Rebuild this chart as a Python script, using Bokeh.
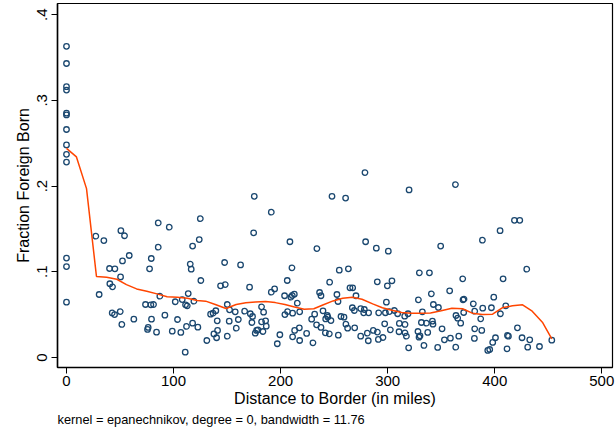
from bokeh.plotting import figure
from bokeh.models import Range1d, FixedTicker, CustomJSTickFormatter, Title
from bokeh.embed import file_html
from bokeh.resources import INLINE

# ---- data ----
dist = [
    0, 0, 0, 0, 0, 0, 0, 0, 0, 0, 0, 0, 0,
    27.4, 34.9, 50.8, 54.2, 85.7, 85.7, 58.6, 52.3, 79.2, 77.6, 40.2, 45.2, 50.5, 40.5, 43, 30.5,
    87.2, 73.8, 78.8, 81.3, 42.7, 44.9, 50.2, 79.4, 62.9, 51.7, 76.3, 75.7, 84.1,
    96, 125, 124, 117.8, 115.6, 116.5, 125.5, 113.7, 101.6, 108.1, 119, 111.2, 112.8, 91.9,
    103.7, 98.8, 106.8, 112.1, 117.8, 122.7, 110.9,
    175.4, 174.8, 147.7, 162.6, 143.9, 148.3, 171, 150.2, 134.6, 136.9, 139.5, 152.3, 157.6,
    166.4, 171.7, 173.8, 140.8, 152, 160.5, 173.2, 137.7, 141.1, 140.2, 131.1, 150.2, 158.6,
    191.3, 208.7, 248, 260.7, 278.8, 320, 233.9, 279.4, 289.4, 300.6, 210.6, 254.8, 263.3,
    329.6, 206.2, 245.8, 304, 191.3, 194.4, 203.7, 209.6, 210.9, 212.8, 215.6, 236.4, 237.7,
    252.6, 264.8, 267.3, 270.4, 290.3, 299.7, 298.8, 328.7, 182.2, 184.1, 204, 206.5, 211.2,
    217.8, 231.8, 239.6, 243.6, 242.1, 244.2, 247, 229, 256.4, 259.2, 274.8, 277.6, 282.2,
    291.6, 301.6, 306.3, 309.3, 315.9, 319, 297.2, 310.9, 316.2, 177.6, 178.8, 183.5,
    186.6, 186, 182.2, 176.3, 196.9, 199.3, 211.2, 213.1, 217.5, 217.8, 224.3, 230.2, 233.6,
    237.7, 241.8, 245.5, 253.9, 261, 262.6, 269.2, 274.8, 281, 281.9, 286.6, 291.3, 295.6,
    302.5, 310.6, 316.2, 317.5, 319.6, 328.3, 329.3,
    267, 268.9, 278.2, 297.9, 290.4, 253.6,
    363.3, 418.4, 423.4, 405, 388.5, 349.5, 429.9, 339, 407.8, 370.1, 357.9, 340.8, 342.7,
    347.4, 370.4, 371.3, 380, 388.8, 396.9, 399.1, 410.3, 371, 381.3, 363.8, 365.4, 368.2,
    386.9, 405.3, 332.4, 331.5, 336.2, 341.8, 342.3, 350.8, 381.3, 387.9, 421.2, 330.2,
    337.4, 333.9, 346.7, 353, 358.6, 363.6, 366.4, 381, 393.5, 395.3, 398.1, 400.7, 411.9,
    412.8, 411.5, 425.5, 432.7, 430.8, 441.8, 453.3,
]
frac_foreign = [
    0.363, 0.343, 0.316, 0.312, 0.285, 0.283, 0.266, 0.248, 0.237, 0.228, 0.116, 0.106, 0.0645,
    0.1415, 0.1364, 0.148, 0.142, 0.157, 0.1287, 0.119, 0.1127, 0.1155, 0.1034, 0.1038, 0.1034, 0.094, 0.086, 0.0824, 0.0735,
    0.0715, 0.0618, 0.0614, 0.0618, 0.052, 0.050, 0.0536, 0.0447, 0.0447, 0.0385, 0.035, 0.0327, 0.0295,
    0.152, 0.162, 0.1376, 0.130, 0.109, 0.103, 0.0898, 0.0746, 0.065, 0.0676, 0.0657, 0.0614, 0.0603, 0.0493,
    0.0443, 0.0307, 0.0292, 0.0362, 0.040, 0.0353, 0.0062,
    0.188, 0.1454, 0.1108, 0.108, 0.0836, 0.0851, 0.082, 0.0618, 0.0505, 0.0517, 0.0545, 0.0556, 0.0533,
    0.054, 0.051, 0.0478, 0.0428, 0.0424, 0.0443, 0.0408, 0.0275, 0.0315, 0.023, 0.0198, 0.0248, 0.0342,
    0.1695, 0.135, 0.188, 0.186, 0.2157, 0.1955, 0.127, 0.135, 0.1275, 0.124, 0.1046, 0.1018, 0.1034,
    0.0988, 0.0898, 0.0878, 0.0894, 0.0762, 0.080, 0.072, 0.0703, 0.0723, 0.0738, 0.0633, 0.0758, 0.072,
    0.0735, 0.0813, 0.0813, 0.072, 0.0883, 0.0836, 0.0645, 0.0673, 0.0591, 0.0528, 0.0501, 0.0536, 0.0517,
    0.0533, 0.0505, 0.0544, 0.049, 0.045, 0.047, 0.0431, 0.0447, 0.0478, 0.047, 0.0571, 0.0521, 0.0521,
    0.0521, 0.0536, 0.0548, 0.051, 0.0482, 0.051, 0.0393, 0.0397, 0.0385, 0.0315, 0.0323, 0.0303,
    0.0365, 0.0428, 0.0416, 0.0283, 0.016, 0.0265, 0.0241, 0.0315, 0.0346, 0.0198, 0.028, 0.0171, 0.0381,
    0.035, 0.0288, 0.0276, 0.026, 0.0388, 0.0342, 0.0346, 0.0248, 0.0283, 0.0195, 0.0315, 0.021, 0.0233,
    0.0323, 0.03, 0.0288, 0.0248, 0.0113, 0.0303, 0.0237,
    0.058, 0.0548, 0.056, 0.0522, 0.0296, 0.0653,
    0.2017, 0.16, 0.16, 0.148, 0.1368, 0.130, 0.103, 0.0988, 0.0918, 0.0918, 0.0778, 0.0743, 0.0618,
    0.0583, 0.0673, 0.068, 0.0626, 0.0575, 0.058, 0.0703, 0.0603, 0.0525, 0.054, 0.049, 0.0458, 0.040,
    0.0451, 0.051, 0.0533, 0.0408, 0.040, 0.0423, 0.0388, 0.0334, 0.0334, 0.0315, 0.0346, 0.0253,
    0.0292, 0.014, 0.0117, 0.0206, 0.0225, 0.012, 0.0248, 0.0222, 0.0082, 0.0093, 0.0175, 0.023, 0.0257,
    0.0248, 0.0101, 0.023, 0.0206, 0.012, 0.0128, 0.0202,
]

smooth_x = [0, 9.3, 18.7, 28, 37.5, 47, 56, 65.5, 75, 84.5, 94, 103.5, 113, 122, 130, 139, 149,
            158.5, 167.5, 176.5, 186, 195, 204, 213, 222, 231, 240, 249, 258, 267, 276, 286,
            295, 304, 313, 322, 331, 340, 350, 360, 370, 379, 388.5, 398, 407, 416.5, 426,
            435, 444.5, 453.3]
smooth_y = [0.244, 0.234, 0.197, 0.0945, 0.0936, 0.0913, 0.085, 0.080, 0.0773, 0.0742, 0.0708,
            0.0703, 0.0692, 0.0665, 0.0657, 0.0618, 0.0571, 0.0618, 0.0638, 0.0648, 0.0653,
            0.064, 0.0618, 0.059, 0.0563, 0.0568, 0.0615, 0.066, 0.069, 0.0703, 0.068, 0.0625,
            0.058, 0.055, 0.0525, 0.0517, 0.0515, 0.052, 0.0545, 0.0575, 0.0568, 0.0517, 0.0501,
            0.0505, 0.058, 0.0603, 0.0614, 0.054, 0.0412, 0.0218]

x_ticks = [0, 100, 200, 300, 400, 500]
y_ticks = [0, 0.1, 0.2, 0.3, 0.4]
y_tick_labels = ["0", ".1", ".2", ".3", ".4"]

x_title = "Distance to Border (in miles)"
y_title = "Fraction Foreign Born"
note = "kernel = epanechnikov, degree = 0, bandwidth = 11.76"

FONT = "Liberation Sans"

p = figure(width=616, height=431, output_backend="svg", toolbar_location=None,
           x_range=Range1d(-8.4, 510), y_range=Range1d(-0.0117, 0.413))
p.min_border_left = 57
p.min_border_right = 4
p.min_border_top = 3
p.min_border_bottom = 64
p.background_fill_color = "white"
p.border_fill_color = "white"
p.outline_line_color = "black"
p.outline_line_width = 1.2
p.xgrid.visible = False
p.ygrid.visible = False

p.scatter(dist, frac_foreign, marker="circle", size=5.5, fill_color=None,
          line_color="#1a476f", line_width=1.3)
p.line(smooth_x, smooth_y, line_color="#ff4500", line_width=1.5)

for ax in (p.xaxis[0], p.yaxis[0]):
    ax.axis_line_color = "black"
    ax.axis_line_width = 1.5
    ax.major_tick_line_color = "black"
    ax.major_tick_line_width = 1
    ax.major_tick_out = 6
    ax.major_tick_in = 0
    ax.minor_tick_line_color = None
    ax.major_label_text_font = FONT
    ax.major_label_text_font_size = "15px"
    ax.major_label_text_color = "black"
    ax.axis_label_text_font = FONT
    ax.axis_label_text_font_size = "16px"
    ax.axis_label_text_font_style = "normal"
    ax.axis_label_text_color = "black"

p.xaxis[0].ticker = FixedTicker(ticks=x_ticks)
p.xaxis[0].axis_label = x_title
p.xaxis[0].major_label_standoff = 2
p.xaxis[0].axis_label_standoff = 1

p.yaxis[0].ticker = FixedTicker(ticks=y_ticks)
p.yaxis[0].formatter = CustomJSTickFormatter(
    args=dict(t=y_ticks, l=y_tick_labels),
    code="for (let i = 0; i < t.length; i++) { if (Math.abs(t[i] - tick) < 1e-9) return l[i]; } return '';")
p.yaxis[0].major_label_orientation = "vertical"
p.yaxis[0].axis_label = y_title
p.yaxis[0].major_label_standoff = 4
p.yaxis[0].axis_label_standoff = 3

t = Title(text=note, align="left", text_font=FONT, text_font_size="12.8px",
          text_font_style="normal", text_color="black", standoff=0, offset=0)
p.add_layout(t, "below")

open("out.html", "w").write(file_html(p, INLINE))
